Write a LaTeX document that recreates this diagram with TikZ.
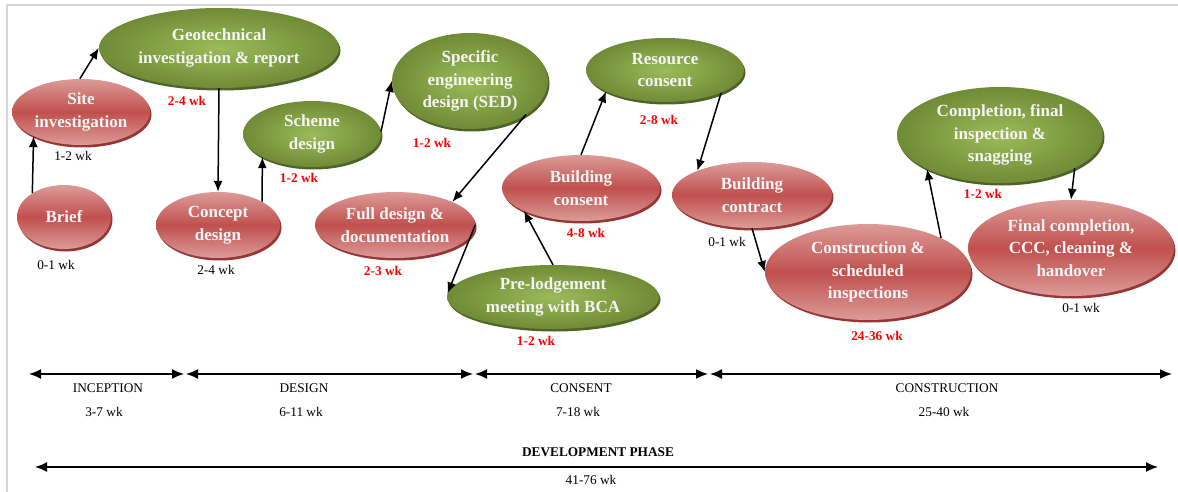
\documentclass[tikz,border=0pt]{standalone}
\usepackage{fontspec}
\setmainfont{Liberation Serif}
\usetikzlibrary{shapes.geometric,shadows,arrows.meta}
\definecolor{redmid}{HTML}{C0504D}
\definecolor{redlight}{HTML}{DC9B99}
\definecolor{redrim}{HTML}{963634}
\definecolor{greenin}{HTML}{9BBB59}
\definecolor{greenout}{HTML}{6F8B36}
\definecolor{greenrim}{HTML}{4F6228}
\definecolor{wkred}{HTML}{FF0000}
\definecolor{framegray}{HTML}{D6D6D6}
\begin{document}
\begin{tikzpicture}[x=1pt,y=-1pt,
    stage/.style={ellipse,inner sep=0pt,align=center,text=white!96!black,
      font=\bfseries\fontsize{17}{22.5}\selectfont},
    redstage/.style={stage,top color=redlight,bottom color=redlight,middle color=redmid,
      drop shadow={shadow xshift=1.5pt,shadow yshift=-2.5pt,opacity=1,fill=redrim}},
    greenstage/.style={stage,inner color=greenin,outer color=greenout,
      drop shadow={shadow xshift=1.5pt,shadow yshift=-2.5pt,opacity=1,fill=greenrim}},
    wk/.style={font=\fontsize{13.3}{16}\selectfont},
    wkhot/.style={text=wkred,font=\bfseries\fontsize{13.3}{16}\selectfont},
    phase/.style={font=\fontsize{13.3}{16}\selectfont},
    link/.style={line width=1.5pt,-{Latex[length=11pt,width=9pt]}},
    span/.style={line width=1.6pt,{Latex[length=12pt,width=10pt]}-{Latex[length=12pt,width=10pt]},
      shorten <=1pt,shorten >=1pt},
  ]
  \useasboundingbox (0,0) rectangle (1178,492);
  \draw[framegray,line width=1.5pt] (7,492) -- (7,5) -- (1178,5);

  % stages
  \node[redstage,minimum width=94pt,minimum height=64pt] (brief) at (64,217) {Brief};
  \node[redstage,minimum width=138pt,minimum height=66pt] (site) at (81,112) {Site\\investigation};
  \node[greenstage,minimum width=240pt,minimum height=80pt] (geo) at (219,48) {Geotechnical\\investigation \& report};
  \node[redstage,minimum width=124pt,minimum height=66pt] (concept) at (218,225) {Concept\\design};
  \node[greenstage,minimum width=138pt,minimum height=66pt] (scheme) at (312,134) {Scheme\\design};
  \node[greenstage,minimum width=156pt,minimum height=96pt] (sed) at (470,81) {Specific\\engineering\\design (SED)};
  \node[redstage,minimum width=160pt,minimum height=66pt] (full) at (395,225) {Full design \&\\documentation};
  \node[greenstage,minimum width=212pt,minimum height=64pt] (pre) at (553,297) {Pre-lodgement\\meeting with BCA};
  \node[redstage,minimum width=158pt,minimum height=66pt] (bcons) at (581,188) {Building\\consent};
  \node[greenstage,minimum width=158pt,minimum height=64pt] (res) at (665,70) {Resource\\consent};
  \node[redstage,minimum width=160pt,minimum height=66pt] (contract) at (752,195) {Building\\contract};
  \node[redstage,minimum width=206pt,minimum height=96pt] (constr) at (868,272) {Construction \&\\scheduled\\inspections};
  \node[greenstage,minimum width=206pt,minimum height=96pt] (compl) at (1000,135) {Completion, final\\inspection \&\\snagging};
  \node[redstage,minimum width=206pt,minimum height=96pt] (final) at (1071,248) {Final completion,\\CCC, cleaning \&\\handover};

  % durations
  \node[wk] (brief-wk) at (56,265) {0-1 wk};
  \node[wk] (site-wk) at (73,156) {1-2 wk};
  \node[wkhot] (geo-wk) at (187,101) {2-4 wk};
  \node[wk] (concept-wk) at (216,270) {2-4 wk};
  \node[wkhot] (scheme-wk) at (299,178) {1-2 wk};
  \node[wkhot] (sed-wk) at (432,143) {1-2 wk};
  \node[wkhot] (full-wk) at (383,271) {2-3 wk};
  \node[wkhot] (pre-wk) at (536,341) {1-2 wk};
  \node[wkhot] (bcons-wk) at (586,233) {4-8 wk};
  \node[wkhot] (res-wk) at (659,120) {2-8 wk};
  \node[wk] (contract-wk) at (727,242) {0-1 wk};
  \node[wkhot] (constr-wk) at (877,336) {24-36 wk};
  \node[wkhot] (compl-wk) at (983,194) {1-2 wk};
  \node[wk] (final-wk) at (1081,308) {0-1 wk};

  % sequence
  \draw[link] (brief.143) -- (site.207);
  \draw[link] (site.92) -- (geo.180);
  \draw[link] (geo.south) -- (concept.north);
  \draw[link] (concept.28) -- (scheme.205);
  \draw[link] (scheme.2) -- (sed.180);
  \draw[link] (sed.-31) -- (full.22);
  \draw[link] (full.east) -- (pre.178);
  \draw[link] (pre.north) -- (bcons.202);
  \draw[link] (bcons.north) -- (res.200);
  \draw[link] (res.-22) -- (contract.156);
  \draw[link] (contract.south) -- (constr.180);
  \draw[link] (constr.25) -- (compl.205);
  \draw[link] (compl.-24) -- (final.north);

  % phases
  \coordinate (p0) at (28,374);
  \coordinate (p1) at (185,374);
  \coordinate (p2) at (474,374);
  \coordinate (p3) at (709,374);
  \coordinate (p4) at (1173,374);
  \draw[span] (p0) -- (p1);
  \draw[span] (p1) -- (p2);
  \draw[span] (p2) -- (p3);
  \draw[span] (p3) -- (p4);
  \node[phase] (inc) at (108,388) {INCEPTION};
  \node[phase] (inc-wk) at (104,412) {3-7 wk};
  \node[phase] (des) at (304,388) {DESIGN};
  \node[phase] (des-wk) at (301,412) {6-11 wk};
  \node[phase] (con) at (581,388) {CONSENT};
  \node[phase] (con-wk) at (578,412) {7-18 wk};
  \node[phase] (cst) at (947,388) {CONSTRUCTION};
  \node[phase] (cst-wk) at (944,412) {25-40 wk};

  \coordinate (d0) at (35,467);
  \coordinate (d1) at (1158,467);
  \draw[line width=1.6pt,{Latex[length=12pt,width=10pt]}-{Latex[length=12pt,width=10pt]}] (d0) -- (d1);
  \node[font=\bfseries\fontsize{13.3}{16}\selectfont] (dev) at (598,452) {DEVELOPMENT PHASE};
  \node[phase] (dev-wk) at (591,480) {41-76 wk};
\end{tikzpicture}
\end{document}
